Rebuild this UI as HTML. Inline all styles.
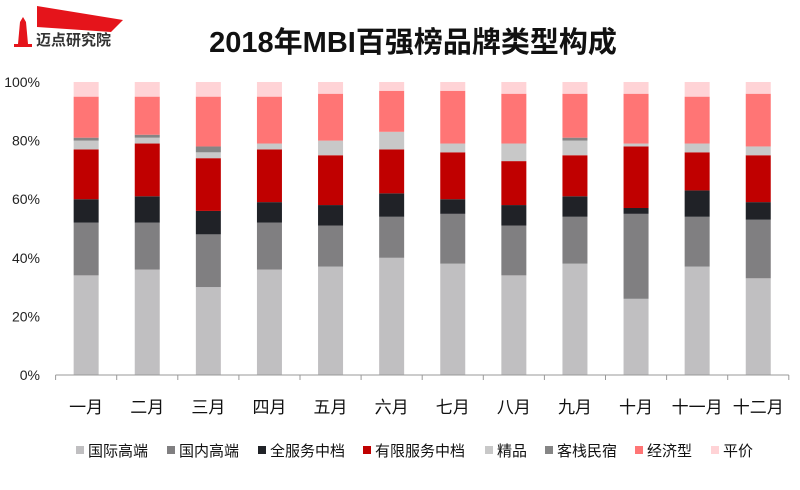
<!DOCTYPE html>
<html><head><meta charset="utf-8"><style>
body{margin:0;background:#fff;}
svg text{font-family:"Liberation Sans","Noto Sans CJK SC",sans-serif;}
</style></head><body>
<svg width="800" height="485" viewBox="0 0 800 485" xmlns="http://www.w3.org/2000/svg">
<g>
<polygon points="37,6 123,20 111,32 37,27" fill="#e5141b"/>
<polygon points="18,44 20,22 23,17 26,22 28,44" fill="#e5141b"/>
<rect x="14" y="44" width="18" height="3" fill="#e5141b"/>
<text x="36" y="45" font-size="15" font-weight="bold" fill="#333">迈点研究院</text>
</g>
<text x="413" y="52" text-anchor="middle" font-size="29" font-weight="bold" fill="#111">2018年MBI百强榜品牌类型构成</text>
<g id="yaxis"></g>
<g id="bars"></g>
<g id="xaxis"></g>
<g id="legend"></g>
</svg>
<script>
const categories=["一月","二月","三月","四月","五月","六月","七月","八月","九月","十月","十一月","十二月"];
const seriesNames=["国际高端","国内高端","全服务中档","有限服务中档","精品","客栈民宿","经济型","平价"];
const intlHigh=[34,36,30,36,37,40,38,34,38,26,37,33];
const domHigh=[18,16,18,16,14,14,17,17,16,29,17,20];
const fullMid=[8,9,8,7,7,8,5,7,7,2,9,6];
const ltdMid=[17,18,18,18,17,15,16,15,14,21,13,16];
const boutique=[3,2,2,2,5,6,3,6,5,1,3,3];
const inn=[1,1,2,0,0,0,0,0,1,0,0,0];
const economy=[14,13,17,16,16,14,18,17,15,17,16,18];
const budget=[5,5,5,5,4,3,3,4,4,4,5,4];
const yTicks=[0,20,40,60,80,100];
const colors=["#c0bfc1","#807f81","#202227","#c00000","#c8c8c8","#858585","#ff7575","#ffd3d6"];
const series=[intlHigh,domHigh,fullMid,ltdMid,boutique,inn,economy,budget];
const NS="http://www.w3.org/2000/svg";
const x0=55.6,step=61.1,y0=375,y1=82,bw=25;
const yS=v=>y0-(v/100)*(y0-y1);
const xC=i=>x0+step*(i+0.5);
function mk(t,a,p){const e=document.createElementNS(NS,t);for(const k in a)e.setAttribute(k,a[k]);p.appendChild(e);return e;}
const ya=document.getElementById('yaxis');
yTicks.forEach(v=>{const t=mk('text',{x:40,y:yS(v)+5,'text-anchor':'end','font-size':14,fill:'#222'},ya);t.textContent=v+'%';

});
const bars=document.getElementById('bars');
categories.forEach((c,i)=>{let cum=0;series.forEach((s,j)=>{const v=s[i];if(v>0){const r=mk('rect',{x:xC(i)-bw/2,y:yS(cum+v),width:bw,height:yS(cum)-yS(cum+v),fill:colors[j]},bars);

}cum+=v;});});
const xa=document.getElementById('xaxis');
const ln=mk('line',{x1:x0,y1:y0,x2:x0+step*12,y2:y0,stroke:'#999','stroke-width':1},xa);


for(let i=0;i<=12;i++){const tk=mk('line',{x1:x0+step*i,y1:y0,x2:x0+step*i,y2:y0+5,stroke:'#999'},xa);

}
categories.forEach((c,i)=>{const t=mk('text',{x:xC(i),y:413,'text-anchor':'middle','font-size':17,fill:'#111'},xa);t.textContent=c;

});
const lg=document.getElementById('legend');
const lx=[76,167,258,363,485,545,635,711];
seriesNames.forEach((n,j)=>{const g=mk('g',{},lg);


mk('rect',{x:lx[j],y:446,width:8,height:8,fill:colors[j]},g);
const t=mk('text',{x:lx[j]+12,y:456,'font-size':15,fill:'#111'},g);t.textContent=n;});
</script>
</body></html>
